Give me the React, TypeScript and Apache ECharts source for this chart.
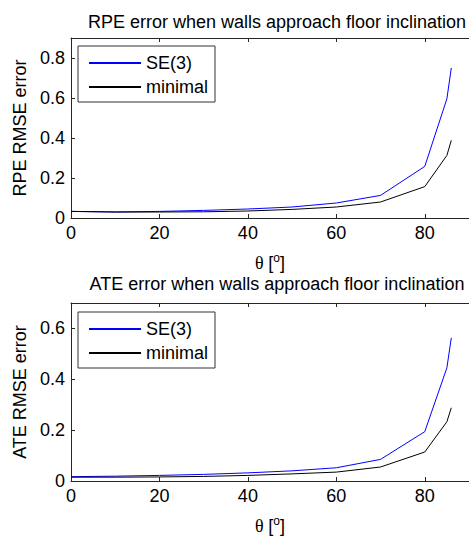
import React, { useEffect, useRef } from "react";
import * as echarts from "echarts";

const thetaDeg = [0, 10, 20, 30, 40, 50, 60, 70, 80, 85, 86];
const rpeSE3 = [0.033, 0.03, 0.033, 0.038, 0.045, 0.055, 0.075, 0.113, 0.258, 0.596, 0.75];
const rpeMinimal = [0.033, 0.03, 0.03, 0.031, 0.035, 0.043, 0.055, 0.08, 0.157, 0.313, 0.388];
const ateSE3 = [0.017, 0.019, 0.022, 0.026, 0.032, 0.04, 0.052, 0.085, 0.194, 0.445, 0.563];
const ateMinimal = [0.015, 0.015, 0.016, 0.018, 0.022, 0.028, 0.035, 0.055, 0.114, 0.233, 0.288];
const titles = [
  "RPE error when walls approach floor inclination",
  "ATE error when walls approach floor inclination",
];
const yNames = ["RPE RMSE error", "ATE RMSE error"];
const seriesNames = ["SE(3)", "minimal"];
const yMax = [0.9, 0.7];

const FONT = "Liberation Sans, Arial, sans-serif";
const AX = "#262626";
const FS = 18;

export default function App() {
  const ref = useRef<HTMLDivElement>(null);
  useEffect(() => {
    const chart = echarts.init(ref.current!, null, { renderer: "svg" });
    const pair = (xs: number[], ys: number[]) => xs.map((x, i) => [x, ys[i]]);
    const grids = [
      { left: 71, right: -5, top: 38, bottom: 318 },
      { left: 71, right: -5, top: 303, bottom: 55 },
    ];
    const xAxes: any[] = [];
    const yAxes: any[] = [];
    [0, 1].forEach((g) => {
      xAxes.push({
        type: "value",
        gridIndex: g,
        min: 0,
        max: 90,
        interval: 20,
        name: "{a|θ }{c|[}{b|o}{c|]}",
        nameLocation: "middle",
        nameGap: 34,
        nameTextStyle: {
          rich: {
            a: { fontFamily: "Liberation Serif, Times New Roman, serif", fontSize: FS, color: "#000" },
            c: { fontFamily: FONT, fontSize: FS, color: "#000" },
            b: { fontFamily: FONT, fontSize: 12, color: "#000", padding: [0, 0, 10, 0] },
          },
        },
        axisLine: { show: true, lineStyle: { color: AX, width: 1 } },
        axisTick: { show: true, inside: true, length: 4, lineStyle: { color: AX } },
        axisLabel: {
          showMaxLabel: false,
          margin: 6,
          fontSize: FS,
          fontFamily: FONT,
          color: "#000",
        },
        splitLine: { show: false },
      });
      xAxes.push({
        type: "value",
        gridIndex: g,
        position: "top",
        min: 0,
        max: 90,
        interval: 20,
        axisLine: { show: true, onZero: false, lineStyle: { color: AX, width: 1 } },
        axisTick: { show: true, inside: true, length: 4, lineStyle: { color: AX } },
        axisLabel: { show: false },
        splitLine: { show: false },
      });
      yAxes.push({
        type: "value",
        gridIndex: g,
        min: 0,
        max: yMax[g],
        interval: 0.2,
        name: yNames[g],
        nameLocation: "middle",
        nameGap: 35,
        nameTextStyle: { fontFamily: FONT, fontSize: FS, color: "#000" },
        axisLine: { show: true, lineStyle: { color: AX, width: 1 } },
        axisTick: { show: true, inside: true, length: 4, lineStyle: { color: AX } },
        axisLabel: {
          showMaxLabel: false,
          margin: 6,
          fontSize: FS,
          fontFamily: FONT,
          color: "#000",
          formatter: (v: number) => String(Math.round(v * 10) / 10),
        },
        splitLine: { show: false },
      });
    });
    const mkSeries = (name: string, g: number, data: number[], color: string) => ({
      type: "line",
      name,
      xAxisIndex: g * 2,
      yAxisIndex: g,
      data: pair(thetaDeg, data),
      symbol: "none",
      lineStyle: { color, width: 1 },
      itemStyle: { color },
    });
    const legends = [46, 312].map((top) => ({
      show: true,
      left: 78,
      top,
      orient: "vertical",
      data: seriesNames,
      itemWidth: 52,
      itemHeight: 18,
      itemGap: 6,
      padding: [8, 7, 6, 10],
      borderColor: "#333",
      borderWidth: 1,
      backgroundColor: "#fff",
      itemStyle: { opacity: 0 },
      textStyle: { fontFamily: FONT, fontSize: FS, color: "#000" },
      selectedMode: false,
    }));
    chart.setOption({
      animation: false,
      backgroundColor: "#fff",
      title: titles.map((t, i) => ({
        text: t,
        left: 272,
        textAlign: "center",
        top: i === 0 ? 8 : 270,
        textStyle: { fontFamily: FONT, fontSize: FS, fontWeight: "normal", color: "#000" },
      })),
      legend: legends,
      grid: grids,
      xAxis: xAxes,
      yAxis: yAxes,
      series: [
        mkSeries(seriesNames[0], 0, rpeSE3, "#0000ff"),
        mkSeries(seriesNames[1], 0, rpeMinimal, "#000000"),
        mkSeries(seriesNames[0], 1, ateSE3, "#0000ff"),
        mkSeries(seriesNames[1], 1, ateMinimal, "#000000"),
      ],
    });
    return () => chart.dispose();
  }, []);
  return (
    <div
      ref={ref}
      style={{ position: "fixed", left: 0, top: 0, width: 469, height: 536, background: "#fff" }}
    />
  );
}
